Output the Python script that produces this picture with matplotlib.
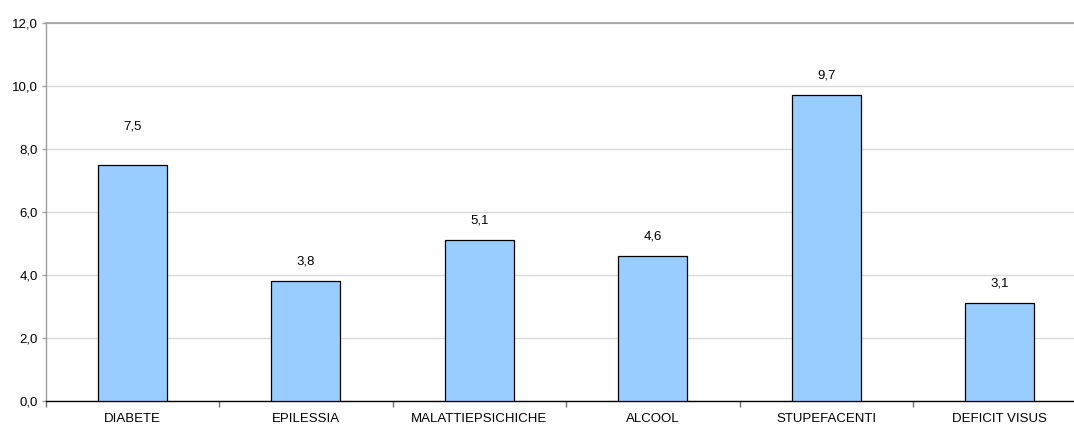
import matplotlib
matplotlib.use("Agg")
import matplotlib.pyplot as plt

categories = ["DIABETE", "EPILESSIA", "MALATTIEPSICHICHE", "ALCOOL", "STUPEFACENTI", "DEFICIT VISUS"]
values = [7.5, 3.8, 5.1, 4.6, 9.7, 3.1]
y_ticks = [0, 2, 4, 6, 8, 10, 12]
# vertical offset (points) of each value label above its bar
label_offsets = [23, 10, 10, 10, 10, 10]

plt.rcParams["font.family"] = ["Liberation Sans", "DejaVu Sans"]

W, H = 1074, 425
fig = plt.figure(figsize=(W / 100, H / 100), dpi=100)
ax = fig.add_axes([45.5 / W, (H - 401) / H, 1041 / W, 378 / H])

x = list(range(len(categories)))
ax.bar(x, values, width=0.40, color="#99CCFF", edgecolor="#000000", linewidth=0.9, zorder=3)

for xi, v, off in zip(x, values, label_offsets):
    ax.annotate(f"{v:.1f}".replace(".", ","), (xi, v), xytext=(0, off),
                textcoords="offset points", ha="center", va="bottom", fontsize=9.5, color="#000000")

ax.set_xlim(-0.5, len(categories) - 0.5)
ax.set_ylim(0, 12)
ax.set_yticks(y_ticks)
ax.set_yticklabels([f"{t:.1f}".replace(".", ",") for t in y_ticks], fontsize=9.5)
ax.yaxis.grid(True, color="#d9d9d9", linewidth=1, zorder=0)
ax.set_axisbelow(True)

# category labels centred under bars, ticks at slot boundaries
ax.set_xticks(x)
ax.set_xticklabels(categories, fontsize=9.5)
ax.tick_params(axis="x", length=0, pad=9)
ax.set_xticks([i - 0.5 for i in range(len(categories) + 1)], minor=True)
ax.tick_params(axis="x", which="minor", length=4, color="#707070", width=1)
ax.tick_params(axis="y", length=3, color="#a0a0a0", width=1, pad=2.5)

ax.spines["right"].set_visible(False)
ax.spines["top"].set_color("#a0a0a0")
ax.spines["top"].set_linewidth(1.2)
ax.spines["left"].set_color("#a0a0a0")
ax.spines["left"].set_linewidth(1)
ax.spines["bottom"].set_color("#000000")
ax.spines["bottom"].set_linewidth(1)

fig.savefig("out.png", dpi=100)
